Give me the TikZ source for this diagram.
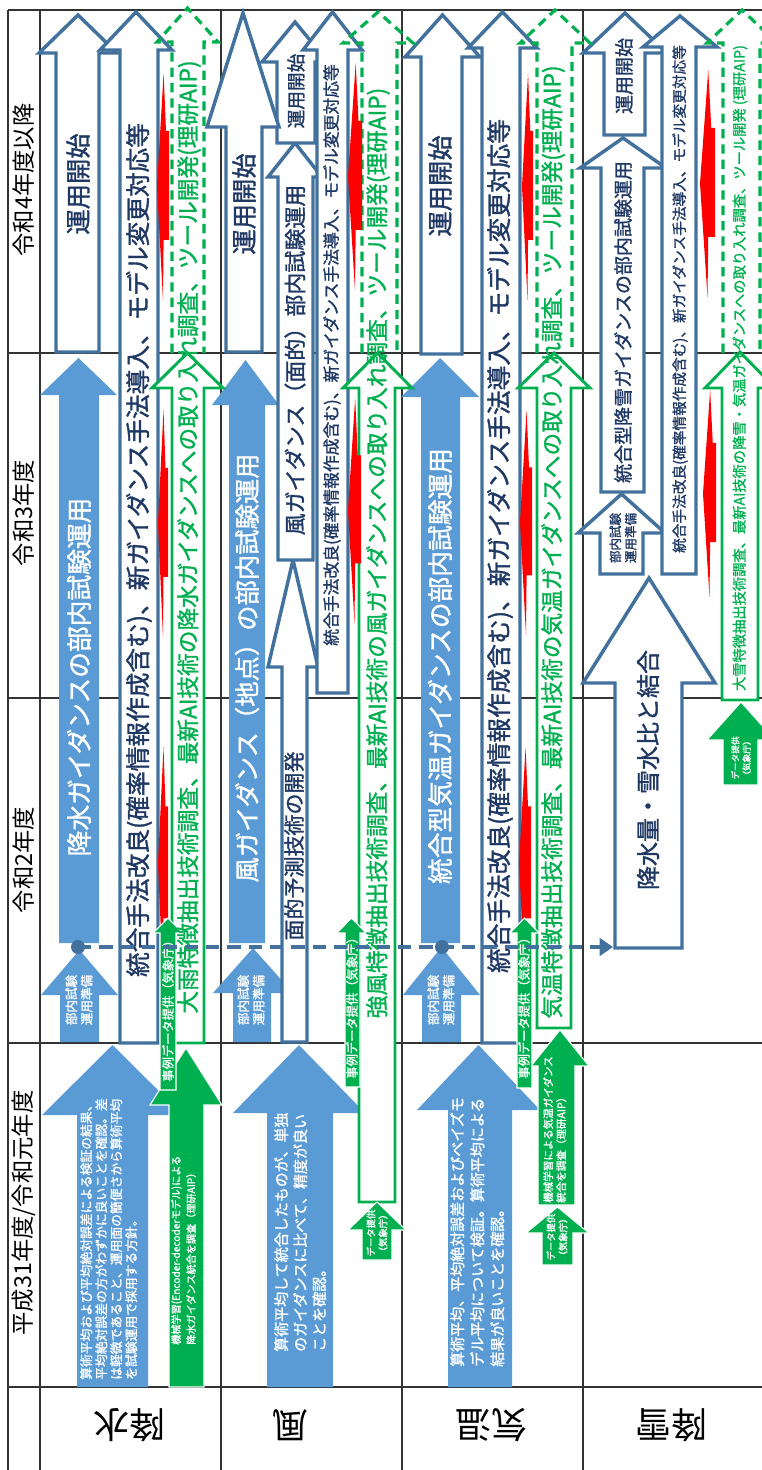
\documentclass[tikz,border=0pt]{standalone}
\usepackage{fontspec}
\setmainfont{Noto Sans CJK JP}
\newfontfamily\heavy{Noto Sans CJK JP}[FakeBold=1.3]
\usepackage{tikz}
\usetikzlibrary{arrows.meta}
\definecolor{cFill}{HTML}{5B9BD5}
\definecolor{cLine}{HTML}{41719C}
\definecolor{cNavy}{HTML}{1F3864}
\definecolor{cGreen}{HTML}{00B050}
\tikzset{
  tablerule/.style={draw=black!80, line width=0.8pt},
  bluearr/.style={fill=cFill},
  outarr/.style={draw=cLine, fill=white, line width=2.6pt},
  grnfill/.style={fill=cGreen, draw=white, line width=0.8pt},
  grnout/.style={draw=cGreen, fill=white, line width=2.2pt},
  grndash/.style={draw=cGreen, line width=2.4pt, dash pattern=on 7pt off 4.5pt},
  bolt/.style={fill=red},
  link/.style={draw=cLine, line width=3pt, dash pattern=on 10pt off 6pt, -{Triangle[length=10pt, width=13pt]}},
  joint/.style={circle, fill=cLine, minimum size=10.5pt, inner sep=0pt},
  lbl/.style={rotate=90, inner sep=0pt},
  wt/.style={lbl, text=white},
  nt/.style={lbl, text=cNavy},
  gt/.style={lbl, text=cGreen},
  sz/.style={font=\heavy\fontsize{#1}{#1}\selectfont},
  hdr/.style={lbl, font=\fontsize{17.5pt}{17.5pt}\selectfont},
  rowlbl/.style={rotate=180, inner sep=0pt, font=\fontsize{27pt}{27pt}\selectfont},
}
\begin{document}
\begin{tikzpicture}[x=0.75pt, y=-0.75pt]
  \useasboundingbox (0,0) rectangle (762,1470);
  \clip (0,0) rectangle (762,1470);
  \foreach \xx in {8,40,221,402,583}
    \draw[tablerule] (\xx,10) -- (\xx,1470);
  \foreach \yy in {10,353,698,1043,1387}
    \draw[tablerule] (8,\yy) -- (762,\yy);
  \foreach \xl/\xr/\yb/\yh/\hl/\hr/\yt in {77/148/1387/1115/42/183/1045, 60/99/1042/995/41/118/950, 59/99/943/395/40/117/358, 267/333/1387/1113/233/365/1045, 233/271/1042/993/213/293/948, 229/265/943/405/212/279/360, 448/512/1387/1110/417/540/1045, 422/461/1042/995/403/480/947, 421/460/943/397/401/479/358}
    \path[bluearr] (\xl,\yb) -- (\xl,\yh) -- (\hl,\yh) -- ({(\hl+\hr)/2},\yt) -- (\hr,\yh) -- (\xr,\yh) -- (\xr,\yb) -- cycle;
  \foreach \xl/\xr/\yb/\yh/\hl/\hr/\yt in {169/204/1387/1105/150/222/1048, 538/575/1205/1066/531/589/1030}
    \path[grnfill] (\xl,\yb) -- (\xl,\yh) -- (\hl,\yh) -- ({(\hl+\hr)/2},\yt) -- (\hr,\yh) -- (\xr,\yh) -- (\xr,\yb) -- cycle;
  \foreach \xl/\xr/\yb/\yh/\hl/\hr/\yt in {56/99/352/53/39/117/15, 120/158/1043/50/100/172/12, 282/307/1042/667/268/318/560, 278/313/560/177/268/322/143, 277/315/143/62/262/328/22, 226/262/352/127/207/279/13, 317/348/693/50/303/362/12, 421/462/354/57/405/480/15, 482/520/1043/48/468/537/12, 615/682/948/683/583/715/578, 600/643/574/533/578/665/494, 601/644/492/168/580/666/138, 604/645/135/53/583/667/13, 662/696/574/47/643/717/16}
    \path[outarr] (\xl,\yb) -- (\xl,\yh) -- (\hl,\yh) -- ({(\hl+\hr)/2},\yt) -- (\hr,\yh) -- (\xr,\yh) -- (\xr,\yb) -- cycle;
  \foreach \xl/\xr/\yb/\yh/\hl/\hr/\yt in {172/204/353/42/157/218/8, 362/397/353/43/343/413/12, 537/572/353/43/520/590/10, 723/760/353/43/707/777/10}
    \path[grndash] (\xl,\yb) -- (\xl,\yh) -- (\hl,\yh) -- ({(\hl+\hr)/2},\yt) -- (\hr,\yh) -- (\xr,\yh) -- (\xr,\yb);
  \foreach \xl/\xr/\yb/\yh/\hl/\hr/\yt in {172/204/1043/388/152/223/353, 359/395/1202/388/343/412/353, 537/571/1028/388/518/590/353, 722/758/700/388/705/775/352}
    \path[grnout] (\xl,\yb) -- (\xl,\yh) -- (\hl,\yh) -- ({(\hl+\hr)/2},\yt) -- (\hr,\yh) -- (\xr,\yh) -- (\xr,\yb) -- cycle;
  \foreach \xa/\xb/\ya/\yb in {158/168/747/980, 158/168/410/637, 157/169/73/300, 348/361/398/623, 348/362/63/290, 519/531/747/980, 520/532/410/635, 522/533/73/300, 703/716/390/597, 700/715/70/297}
    \fill[bolt] ({\xa+0.55*(\xb-\xa)},\ya) -- ({\xa+0.75*(\xb-\xa)},{\ya+0.255*(\yb-\ya)}) -- (\xb,{\ya+0.255*(\yb-\ya)}) -- (\xb,{\ya+0.735*(\yb-\ya)}) -- ({\xa+0.55*(\xb-\xa)},{\ya+0.735*(\yb-\ya)}) -- ({\xa+0.5*(\xb-\xa)},\yb) -- (\xa,{\ya+0.5*(\yb-\ya)}) -- cycle;
  \foreach \xl/\xr/\yb/\yh/\hl/\hr/\yt in {160/176/1090/933/153/183/918, 345/360/1087/933/337/366/918, 517/532/1088/933/510/539/918, 362/392/1260/1230/348/406/1202, 542/573/1265/1233/526/589/1207, 723/758/785/740/707/775/702}
    \path[grnfill] (\xl,\yb) -- (\xl,\yh) -- (\hl,\yh) -- ({(\hl+\hr)/2},\yt) -- (\hr,\yh) -- (\xr,\yh) -- (\xr,\yb) -- cycle;

  \node[hdr] (yr4) at (24,180) {令和4年度以降};
  \node[hdr] (yr3) at (24,513) {令和3年度};
  \node[hdr] (yr2) at (24,860) {令和2年度};
  \node[hdr] (yr1) at (24,1213) {平成31年度/令和元年度};
  \node[rowlbl] (kosui) at (129,1425) {降水};
  \node[rowlbl] (kaze) at (290,1425) {風};
  \node[rowlbl] (kion) at (491,1425) {気温};
  \node[rowlbl] (kousetsu) at (671,1425) {降雪};

  \node[wt, anchor=north west, align=left, font=\heavy\fontsize{9.6pt}{11.25pt}\selectfont] (kosuiPast) at (80,1380) {算術平均および平均絶対誤差による検証の結果、\\平均絶対誤差の方がわずかに良いことを確認。差\\は軽微であること、運用面の簡便さから算術平均\\を試験運用で採用する方針。};
  \node[wt, anchor=north west, align=left, font=\heavy\fontsize{7.6pt}{11.25pt}\selectfont] (kosuiML) at (171,1345) {機械学習(Encoder-decoderモデル)による\\降水ガイダンス統合を調査（理研AIP）};
  \node[wt, sz=9.2pt] (kosuiCase) at (168,1008) {事例データ提供（気象庁）};
  \node[wt, align=center, font=\heavy\fontsize{9.4pt}{11.5pt}\selectfont] (kosuiPrep) at (79,1000) {部内試験\\運用準備};
  \node[wt, sz=19.3pt] (kosuiTrial) at (79,677) {降水ガイダンスの部内試験運用};
  \node[nt, sz=19pt] (kosuiStart) at (78,184) {運用開始};
  \node[nt, sz=18.5pt] (kosuiImpr) at (139,550) {統合手法改良(確率情報作成含む)、新ガイダンス手法導入、モデル変更対応等};
  \node[gt, sz=17pt] (kosuiAI) at (189,537) {大雨特徴抽出技術調査、最新AI技術の降水ガイダンスへの取り入れ調査、ツール開発(理研AIP)};

  \node[wt, anchor=north west, align=left, font=\heavy\fontsize{11.25pt}{14.25pt}\selectfont] (kazePast) at (274,1352) {算術平均して統合したものが、単独\\のガイダンスに比べて、精度が良い\\ことを確認。};
  \node[wt, align=center, font=\heavy\fontsize{7pt}{9pt}\selectfont] (kazeData) at (377,1233) {データ提供\\（気象庁）};
  \node[wt, sz=9.2pt] (kazeCase) at (352,1005) {事例データ提供（気象庁）};
  \node[wt, align=center, font=\heavy\fontsize{9.4pt}{11.5pt}\selectfont] (kazePrep) at (251,1000) {部内試験\\運用準備};
  \node[wt, sz=19pt] (kazeTrial) at (247,668) {風ガイダンス（地点）の部内試験運用};
  \node[nt, sz=15.75pt] (kazeSurf) at (294,846) {面的予測技術の開発};
  \node[nt, sz=16.5pt] (kazeSurfTrial) at (295,360) {風ガイダンス（面的）部内試験運用};
  \node[nt, sz=19pt] (kazeStart) at (244,204) {運用開始};
  \node[nt, sz=14pt] (kazeStart2) at (296,91) {運用開始};
  \node[nt, sz=12.6pt] (kazeImpr) at (332,355) {統合手法改良(確率情報作成含む)、新ガイダンス手法導入、モデル変更対応等};
  \node[gt, sz=17pt] (kazeAI) at (378,553) {強風特徴抽出技術調査、最新AI技術の風ガイダンスへの取り入れ調査、ツール開発(理研AIP)};

  \node[wt, anchor=north west, align=left, font=\heavy\fontsize{11.25pt}{15pt}\selectfont] (kionPast) at (450,1367) {算術平均、平均絶対誤差およびベイズモ\\デル平均について検証。算術平均による\\結果が良いことを確認。};
  \node[wt, anchor=north west, align=left, font=\heavy\fontsize{7.9pt}{9.75pt}\selectfont] (kionML) at (543,1203) {機械学習による気温ガイダンス\\統合を調査（理研AIP）};
  \node[wt, align=center, font=\heavy\fontsize{7pt}{9pt}\selectfont] (kionData) at (557,1237) {データ提供\\（気象庁）};
  \node[wt, sz=9.2pt] (kionCase) at (524,1005) {事例データ提供（気象庁）};
  \node[wt, align=center, font=\heavy\fontsize{9.4pt}{11.5pt}\selectfont] (kionPrep) at (441,1000) {部内試験\\運用準備};
  \node[wt, sz=19.3pt] (kionTrial) at (440,666) {統合型気温ガイダンスの部内試験運用};
  \node[nt, sz=19pt] (kionStart) at (440,186) {運用開始};
  \node[nt, sz=18.5pt] (kionImpr) at (500,546) {統合手法改良(確率情報作成含む)、新ガイダンス手法導入、モデル変更対応等};
  \node[gt, sz=17pt] (kionAI) at (553,542) {気温特徴抽出技術調査、最新AI技術の気温ガイダンスへの取り入れ調査、ツール開発(理研AIP)};

  \node[nt, sz=18pt] (kousetsuMix) at (648,770) {降水量・雪水比と結合};
  \node[nt, align=center, font=\heavy\fontsize{9.4pt}{11.5pt}\selectfont] (kousetsuPrep) at (623,538) {部内試験\\運用準備};
  \node[nt, sz=14.25pt] (kousetsuTrial) at (623,322) {統合型降雪ガイダンスの部内試験運用};
  \node[nt, sz=14.25pt] (kousetsuStart) at (624,76) {運用開始};
  \node[nt, sz=11pt] (kousetsuImpr) at (680,299) {統合手法改良(確率情報作成含む)、新ガイダンス手法導入、モデル変更対応等};
  \node[gt, sz=10.7pt] (kousetsuAI) at (740,368) {大雪特徴抽出技術調査、最新AI技術の降雪・気温ガイダンスへの取り入れ調査、ツール開発 (理研AIP)};
  \node[wt, align=center, font=\heavy\fontsize{6.5pt}{8.5pt}\selectfont] (kousetsuData) at (741,758) {データ提供\\（気象庁）};

  \coordinate (dotA) at (78,947);
  \coordinate (dotB) at (442,947);
  \coordinate (mixIn) at (613,947);
  \draw[link] (dotA) -- (mixIn);
  \node[joint] (jointA) at (dotA) {};
  \node[joint] (jointB) at (dotB) {};
\end{tikzpicture}
\end{document}
